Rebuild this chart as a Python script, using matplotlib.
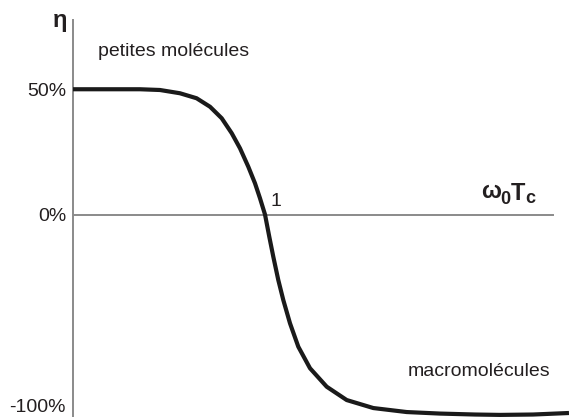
import numpy as np
import matplotlib
matplotlib.use("Agg")
import matplotlib.pyplot as plt

plt.rcParams['font.family'] = ['Liberation Sans', 'DejaVu Sans']

# Data: omega0*Tc (log axis) and NOE enhancement eta (%)
omega_tc = [0.0120, 0.0562, 0.0891, 0.141, 0.207, 0.282, 0.369, 0.465, 0.562,
            0.681, 0.794, 0.891, 1.0, 1.104, 1.211, 1.358, 1.524, 1.778,
            2.153, 2.818, 4.140, 6.561, 12.11, 26.12, 56.23, 125.9, 223.9,
            478.6, 1096.0]
eta_pct = [50.1, 50.1, 49.8, 48.5, 46.5, 43.1, 38.5, 32.5, 26.5,
           19.1, 12.5, 6.5, 0.0, -11.7, -22.2, -34.4, -44.9, -57.1,
           -69.4, -80.7, -90.4, -97.4, -101.6, -103.7, -104.5, -105.0, -105.2,
           -105.0, -104.2]

ytick_vals = [50, 0, -100]
ytick_labels = ["50%", "0%", "-100%"]

TXT = '#231f20'
GRAY = '#8a8a8a'

W, H = 569, 417
fig = plt.figure(figsize=(W / 100, H / 100), dpi=100)
ax = fig.add_axes([73 / W, 0, (W - 73) / W, (H - 20) / H])

# schematic, piecewise-linear vertical scale (positive part stretched)
def fwd(v):
    v = np.asarray(v, dtype=float)
    return np.where(v >= 0, v * 2.5, v * 1.905)

def inv(u):
    u = np.asarray(u, dtype=float)
    return np.where(u >= 0, u / 2.5, u / 1.905)

ax.set_xscale('log')
ax.set_yscale('function', functions=(fwd, inv))
ax.set_xlim(10 ** -1.92, 10 ** 3.04)
ax.set_ylim(-(417 - 214.5) / 1.905, (214.5 - 20) / 2.5)

ax.plot(omega_tc, eta_pct, color='#1a1a1a', lw=3.0, solid_capstyle='butt',
        solid_joinstyle='round', antialiased=True, zorder=3)
ax.axhline(0, xmin=0, xmax=(553 - 73) / (W - 73), color=GRAY, lw=1.4, zorder=2)

for s in ['top', 'right', 'bottom']:
    ax.spines[s].set_visible(False)
ax.spines['left'].set_color(GRAY)
ax.spines['left'].set_linewidth(1.4)

ax.set_xticks([])
ax.xaxis.set_minor_locator(matplotlib.ticker.NullLocator())
ax.set_yticks(ytick_vals)
ax.set_yticklabels(ytick_labels)
ax.yaxis.set_minor_locator(matplotlib.ticker.NullLocator())
ax.tick_params(axis='y', length=0, pad=5, labelsize=14, labelcolor=TXT)

fig.text(98 / W, 1 - 51 / H, "petites molécules", fontsize=14, color=TXT,
         ha='left', va='center')
fig.text(408 / W, 1 - 372 / H, "macromolécules", fontsize=14, color=TXT,
         ha='left', va='center')
fig.text(276 / W, 1 - 201 / H, "1", fontsize=14, color=TXT,
         ha='center', va='center')

# axis title omega_0 T_c built from pieces (large bold subscripts as in the original)
fig.text(481 / W, 1 - 198 / H, "ω", fontsize=17, fontweight='bold', color=TXT,
         ha='left', va='baseline')
fig.text(500 / W, 1 - 204 / H, "0", fontsize=13, fontweight='bold', color=TXT,
         ha='left', va='baseline')
fig.text(511 / W, 1 - 200 / H, "T", fontsize=17, fontweight='bold', color=TXT,
         ha='left', va='baseline')
fig.text(525 / W, 1 - 203 / H, "c", fontsize=13, fontweight='bold', color=TXT,
         ha='left', va='baseline')

fig.text(60 / W, 1 - 27 / H, "η", fontsize=17, fontweight='bold', color=TXT,
         ha='center', va='baseline')

fig.savefig("out.png", dpi=100)
